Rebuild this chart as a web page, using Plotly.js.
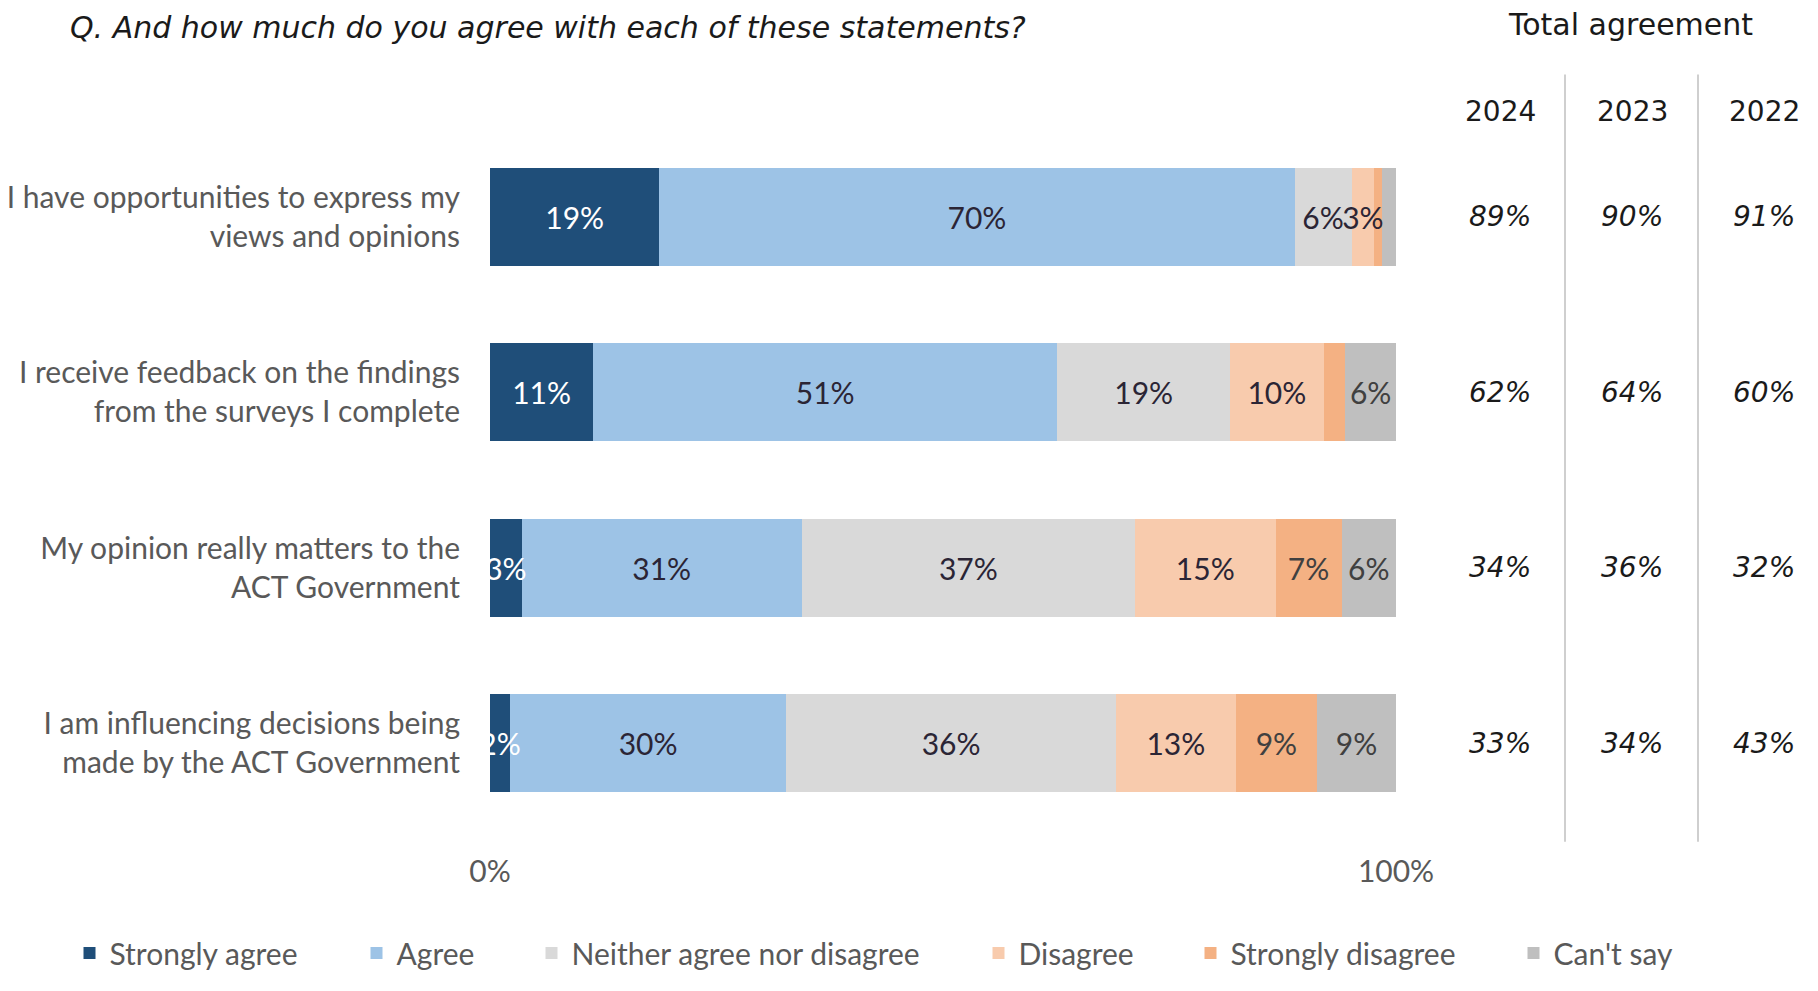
<!DOCTYPE html>
<html>
<head>
<meta charset="utf-8">
<script src="https://cdn.plot.ly/plotly-3.0.1.min.js"></script>
<style>html,body{margin:0;padding:0;background:#fff;}#chart{width:1818px;height:991px;}</style>
</head>
<body>
<div id="chart"></div>
<script>
// ---- data ----
const categories = [
  "I have opportunities to express my<br>views and opinions",
  "I receive feedback on the findings<br>from the surveys I complete",
  "My opinion really matters to the<br>ACT Government",
  "I am influencing decisions being<br>made by the ACT Government"
];
const seriesNames = ["Strongly agree", "Agree", "Neither agree nor disagree", "Disagree", "Strongly disagree", "Can't say"];
const stronglyAgree    = [18.7, 11.4, 3.5, 2.2];
const agree            = [70.1, 51.2, 30.9, 30.5];
const neither          = [6.3, 19.1, 36.8, 36.4];
const disagree         = [2.5, 10.3, 15.5, 13.2];
const stronglyDisagree = [0.8, 2.4, 7.3, 9.0];
const cantSay          = [1.6, 5.6, 6.0, 8.7];
const stronglyAgreeLabels    = ["19%", "11%", "3%", "2%"];
const agreeLabels            = ["70%", "51%", "31%", "30%"];
const neitherLabels          = ["6%", "19%", "37%", "36%"];
const disagreeLabels         = ["3%", "10%", "15%", "13%"];
const stronglyDisagreeLabels = ["", "", "7%", "9%"];
const cantSayLabels          = ["", "6%", "6%", "9%"];
const years = ["2024", "2023", "2022"];
const total2024 = ["89%", "62%", "34%", "33%"];
const total2023 = ["90%", "64%", "36%", "34%"];
const total2022 = ["91%", "60%", "32%", "43%"];
const xTickVals = [0, 100];
const xTickText = ["0%", "100%"];

// ---- styling ----
const W = 1818, H = 991;
const L = 490, R = 1396, T = 129, B = 851;
const px = v => (v - L) / (R - L);
const py = v => (B - v) / (B - T);
const colors = ["#1F4E79", "#9DC3E6", "#D9D9D9", "#F8CBAD", "#F4B183", "#BFBFBF"];
const textColors = ["#FFFFFF", "#2B2535", "#2B2535", "#2B2535", "#404040", "#404040"];
const LAB = "Lato, 'Noto Sans', sans-serif";
const GEO = "'DejaVu Sans', 'Open Sans', sans-serif";
const FS = 30;
const labelNudge = 0.025; // small downward optical correction for label baseline

const values = [stronglyAgree, agree, neither, disagree, stronglyDisagree, cantSay];
const labels = [stronglyAgreeLabels, agreeLabels, neitherLabels, disagreeLabels, stronglyDisagreeLabels, cantSayLabels];
const legendIds = ["legend", "legend2", "legend3", "legend4", "legend5", "legend6"];
const legendTextStart = [110, 397, 572, 1019, 1231, 1554];

const barTraces = values.map((vals, i) => ({
  type: "bar",
  orientation: "h",
  name: seriesNames[i],
  x: vals,
  y: categories,
  marker: {color: colors[i], line: {width: 0}},
  hoverinfo: "skip",
  legend: legendIds[i]
}));

// segment labels drawn on top of all bars, centred on each stacked segment
const cumulative = categories.map(() => 0);
const labelTraces = values.map((vals, i) => {
  const mids = vals.map((v, k) => {
    const m = cumulative[k] + v / 2;
    cumulative[k] += v;
    return m;
  });
  return {
    type: "scatter",
    mode: "text",
    x: mids,
    y: categories,
    yaxis: "y2",
    text: labels[i],
    textposition: "middle center",
    textfont: {family: LAB, size: FS, color: textColors[i]},
    hoverinfo: "skip",
    showlegend: false,
    cliponaxis: true
  };
});

const annotations = [];
annotations.push({xref: "paper", yref: "paper", x: px(68), y: py(25), xanchor: "left", yanchor: "middle",
  text: "<i>Q. And how much do you agree with each of these statements?</i>", showarrow: false,
  font: {family: GEO, size: 30, color: "#1a1a1a"}});
annotations.push({xref: "paper", yref: "paper", x: px(1630), y: py(22), xanchor: "center", yanchor: "middle",
  text: "Total agreement", showarrow: false, font: {family: GEO, size: 30, color: "#1a1a1a"}});
const colX = [1500, 1632, 1764];
years.forEach((yr, j) => {
  annotations.push({xref: "paper", yref: "paper", x: px(colX[j]), y: py(111), xanchor: "center", yanchor: "middle",
    text: yr, showarrow: false, font: {family: GEO, size: 28, color: "#1a1a1a"}});
});
[total2024, total2023, total2022].forEach((col, j) => {
  col.forEach((t, k) => {
    annotations.push({xref: "paper", yref: "y", x: px(colX[j]), y: categories[k], xanchor: "center", yanchor: "middle",
      text: "<i>" + t + "</i>", showarrow: false, font: {family: GEO, size: 28, color: "#1a1a1a"}});
  });
});

const shapes = [1565, 1698].map(xx => ({
  type: "line", xref: "paper", yref: "paper", x0: px(xx), x1: px(xx), y0: py(73), y1: py(862),
  line: {color: "#BFBFBF", width: 1.5}
}));

const layout = {
  width: W, height: H,
  margin: {l: L, r: W - R, t: T, b: H - B, pad: 0},
  paper_bgcolor: "#fff", plot_bgcolor: "#fff",
  barmode: "stack",
  bargap: 0.44,
  showlegend: true,
  xaxis: {
    range: [0, 100], tickvals: xTickVals, ticktext: xTickText,
    showgrid: true, gridcolor: "#D9D9D9", gridwidth: 2, zeroline: false, showline: false,
    ticks: "", ticklabelstandoff: 20,
    tickfont: {family: LAB, size: FS, color: "#595959"}, fixedrange: true
  },
  yaxis: {
    type: "category", categoryorder: "array", categoryarray: categories,
    range: [categories.length - 0.5, -0.5], showgrid: false, zeroline: false, showline: false,
    ticks: "", ticklabelstandoff: 29,
    tickfont: {family: LAB, size: FS, color: "#595959"}, fixedrange: true
  },
  yaxis2: {
    type: "category", categoryorder: "array", categoryarray: categories, overlaying: "y",
    range: [categories.length - 0.5 - labelNudge, -0.5 - labelNudge],
    visible: false, showgrid: false, zeroline: false, fixedrange: true
  },
  annotations: annotations,
  shapes: shapes
};
legendIds.forEach((id, i) => {
  layout[id] = {
    orientation: "h", x: px(legendTextStart[i] - 40.5), xanchor: "left", y: py(976.5), yanchor: "middle",
    font: {family: LAB, size: FS, color: "#595959"}, bgcolor: "rgba(0,0,0,0)", borderwidth: 0,
    itemclick: false, itemdoubleclick: false, itemwidth: 30
  };
});

Plotly.newPlot("chart", barTraces.concat(labelTraces), layout, {displayModeBar: false, staticPlot: true});
</script>
</body>
</html>
